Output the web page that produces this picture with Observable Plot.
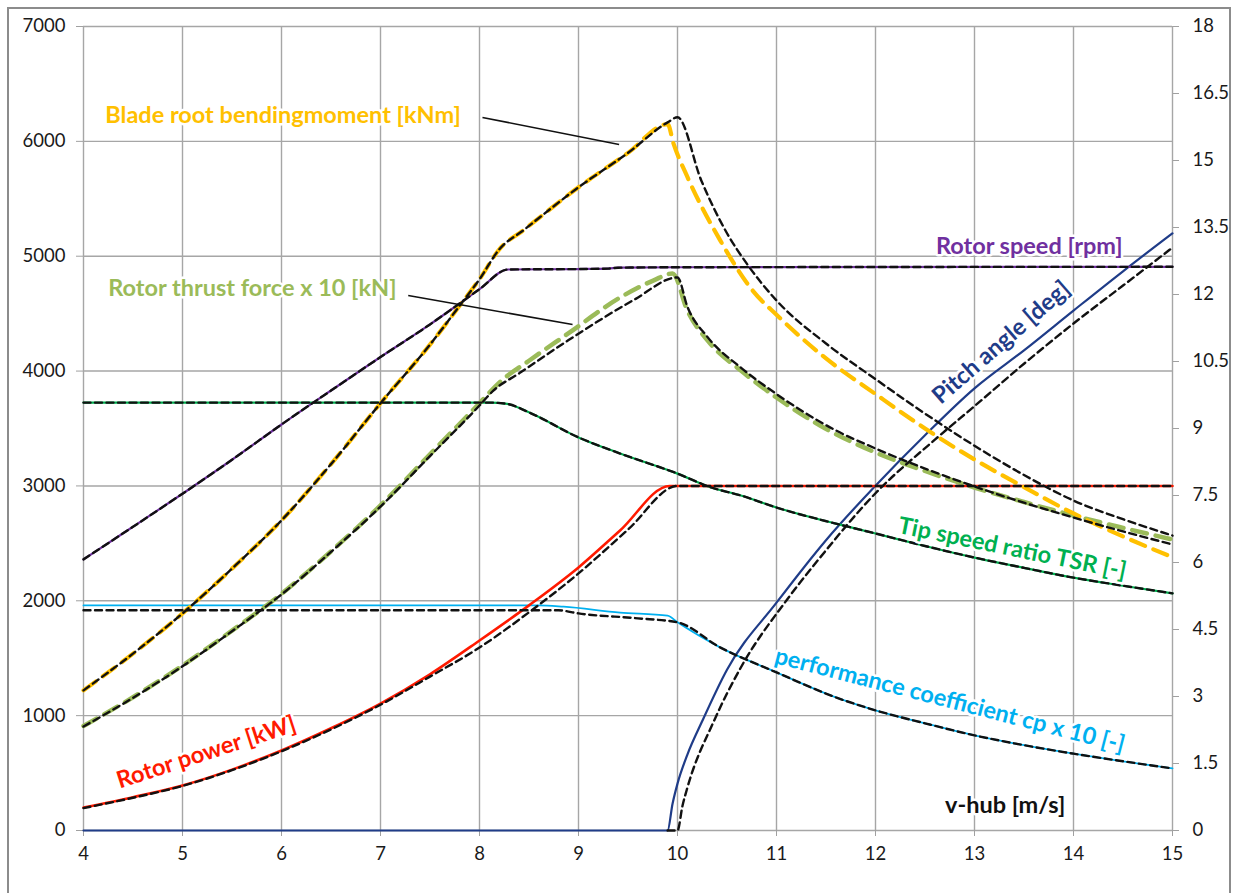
<!DOCTYPE html>
<html><head><meta charset="utf-8">
<script src="https://cdn.jsdelivr.net/npm/d3@7"></script>
<script src="https://cdn.jsdelivr.net/npm/@observablehq/plot@0.6"></script>
<style>
body{margin:0;background:#fff;font-family:Lato,sans-serif}
#wrap{position:relative;width:1239px;height:893px;overflow:hidden}
#frame{position:absolute;left:7px;top:7px;width:1220px;height:900px;border:2px solid #8c8c8c;pointer-events:none}
</style></head><body><div id="wrap"><div id="chart"></div><div id="frame"></div></div>
<script>
// ---- axes / ticks ----
const windTicks = [4,5,6,7,8,9,10,11,12,13,14,15];
const leftTicks = [0,1000,2000,3000,4000,5000,6000,7000];
const rightTicks = [0,1.5,3,4.5,6,7.5,9,10.5,12,13.5,15,16.5,18];
const K = 7000 / 18; // right-axis unit -> left-axis unit

// ---- left-axis series [v-hub m/s, value] ----
const bladeMomentMeas = [[4,1220],[4.5,1540],[5,1890],[5.5,2280],[6,2700],[6.5,3190],[7,3720],[7.5,4230],[7.8,4570],[8,4800],[8.2,5060],[8.45,5230],[9,5600],[9.5,5900],[9.9,6150],[9.96,5980],[10.1,5690],[10.43,5140],[10.77,4690],[11,4490],[11.5,4110],[12,3800],[12.5,3500],[13,3230],[13.5,2990],[14,2760],[14.5,2560],[15,2380]];
const bladeMomentSim = [[4,1220],[4.5,1540],[5,1890],[5.5,2280],[6,2700],[6.5,3190],[7,3720],[7.5,4230],[7.8,4570],[8,4800],[8.2,5060],[8.45,5230],[9,5600],[9.5,5900],[9.9,6165],[10,6210],[10.24,5660],[10.5,5200],[10.7,4935],[11,4615],[11.5,4240],[12,3930],[12.5,3630],[13,3350],[13.5,3095],[14,2873],[14.5,2710],[15,2568]];
const thrustMeas = [[4,910],[4.5,1160],[5,1437],[5.5,1740],[6,2060],[6.5,2430],[7,2830],[7.5,3275],[8,3720],[8.2,3900],[8.5,4090],[8.9,4330],[9.42,4640],[9.76,4790],[9.95,4850],[10.1,4527],[10.33,4240],[10.64,4005],[11,3770],[11.44,3526],[12,3291],[12.5,3130],[13,2986],[13.5,2860],[14,2742],[14.5,2635],[15,2533]];
const thrustSim = [[4,905],[4.5,1155],[5,1430],[5.5,1735],[6,2055],[6.5,2425],[7,2820],[7.5,3260],[8,3700],[8.14,3830],[8.4,3980],[8.9,4270],[9.56,4620],[10,4815],[10.1,4560],[10.3,4300],[10.64,4030],[11,3800],[11.6,3483],[12,3326],[13,2995],[14,2725],[15,2490]];
const powerMeas = [[4,200],[4.5,290],[5,392],[5.5,530],[6,697],[6.5,890],[7,1105],[7.5,1360],[8,1654],[8.5,1960],[9,2290],[9.42,2612],[9.92,3000],[15,3000]];
const powerSim = [[4,195],[4.5,285],[5,388],[5.5,525],[6,690],[6.5,880],[7,1095],[7.5,1340],[8,1593],[8.5,1900],[9,2238],[9.5,2620],[10,3000],[15,3000]];

// ---- right-axis series [v-hub m/s, value] ----
const rotorSpeedMeas = [[4,6.07],[4.5,6.8],[5,7.54],[5.5,8.3],[6,9.09],[6.5,9.85],[7,10.6],[7.5,11.33],[7.8,11.8],[8,12.12],[8.29,12.56],[9,12.57],[9.3,12.58],[9.4,12.6],[10,12.61],[15,12.62]];
const rotorSpeedSim = [[4,6.07],[4.5,6.8],[5,7.54],[5.5,8.3],[6,9.09],[6.5,9.85],[7,10.6],[7.5,11.33],[7.8,11.8],[8,12.12],[8.29,12.56],[9,12.57],[9.3,12.58],[9.4,12.6],[10,12.61],[15,12.62]];
const tsrMeas = [[4,9.58],[8.1,9.58],[8.28,9.55],[8.52,9.34],[9,8.8],[9.42,8.44],[10,7.99],[10.34,7.68],[10.64,7.5],[11,7.23],[11.6,6.87],[12,6.65],[12.5,6.37],[13,6.11],[13.5,5.88],[14,5.66],[14.5,5.48],[15,5.31]];
const tsrSim = [[4,9.58],[8.1,9.58],[8.28,9.55],[8.52,9.34],[9,8.8],[9.42,8.44],[10,7.99],[10.34,7.68],[10.64,7.5],[11,7.23],[11.6,6.87],[12,6.65],[12.5,6.37],[13,6.11],[13.5,5.88],[14,5.66],[14.5,5.48],[15,5.31]];
const cpMeas = [[4,5.04],[8.6,5.04],[8.85,5.01],[9.42,4.88],[9.9,4.81],[10,4.66],[10.43,4.1],[11,3.54],[11.6,2.98],[12,2.69],[12.5,2.4],[13,2.13],[13.5,1.91],[14,1.72],[14.5,1.55],[15,1.39]];
const cpSim = [[4,4.93],[8.8,4.93],[9,4.86],[9.6,4.75],[10,4.66],[10.43,4.1],[11,3.54],[11.6,2.98],[12,2.69],[12.5,2.4],[13,2.13],[13.5,1.91],[14,1.72],[14.5,1.55],[15,1.39]];
const pitchMeas = [[4,0],[9.9,0],[9.95,0.6],[10,1.05],[10.1,1.7],[10.25,2.45],[10.5,3.6],[11,5.1],[11.5,6.5],[12,7.72],[12.5,8.85],[13,9.9],[13.5,10.75],[14,11.64],[14.5,12.52],[15,13.37]];
const pitchSim = [[9.9,0],[10,0],[10.05,0.55],[10.1,0.96],[10.37,2.46],[10.64,3.65],[11.1,5.15],[11.44,6.11],[12,7.55],[12.6,8.75],[13,9.5],[13.5,10.45],[14,11.35],[14.5,12.2],[15,13.05]];

// ---- annotations (text, anchor in data units) ----
const labelTexts = ["Blade root bendingmoment [kNm]","Rotor thrust force x 10 [kN]","Rotor speed [rpm]","Pitch angle [deg]","Tip speed ratio TSR [-]","performance coefficient cp x 10 [-]","Rotor power [kW]","v-hub [m/s]"];

const startLabels = [
  {text: labelTexts[0], x: 4.22, y: 6225, fill: "#FFC000"},
  {text: labelTexts[1], x: 4.25, y: 4715, fill: "#9BBB59"},
  {text: labelTexts[2], x: 12.61, y: 5084, fill: "#7030A0"}
];
const middleLabels = [
  {text: labelTexts[3], x: 13.27, y: 4249, fill: "#1F3C88", rotate: -41},
  {text: labelTexts[4], x: 13.38, y: 2455, fill: "#00B050", rotate: 11.5},
  {text: labelTexts[5], x: 12.75, y: 1132, fill: "#00B0F0", rotate: 14.4},
  {text: labelTexts[6], x: 5.24, y: 679, fill: "#FF1A00", rotate: -18},
  {text: labelTexts[7], x: 13.31, y: 218, fill: "#111111", rotate: 0}
];
const leaders = [
  {x1: 8.03, y1: 6208, x2: 9.41, y2: 5973},
  {x1: 7.28, y1: 4658, x2: 8.94, y2: 4405}
];

const L = (arr, opts) => Plot.line(arr, {x: d => d[0], y: d => d[1], curve: "monotone-x", ...opts});
const R = (arr, opts) => Plot.line(arr, {x: d => d[0], y: d => d[1] * K, curve: "monotone-x", ...opts});
const simStyle = {stroke: "#111", strokeWidth: 2.4, strokeDasharray: "7,4.5"};
const labelStyle = {fontSize: 23.5, fontWeight: "bold", stroke: "white", strokeWidth: 5, paintOrder: "stroke"};

const chart = Plot.plot({
  width: 1239, height: 893,
  marginLeft: 83, marginRight: 67, marginTop: 26, marginBottom: 63,
  style: {fontFamily: "Lato, sans-serif", fontSize: "18px", color: "#1a1a1a", background: "transparent"},
  x: {domain: [4, 15]},
  y: {domain: [0, 7000]},
  marks: [
    Plot.gridX(windTicks, {stroke: "#a6a6a6", strokeOpacity: 1, strokeWidth: 1.4}),
    Plot.gridY(leftTicks, {stroke: "#a6a6a6", strokeOpacity: 1, strokeWidth: 1.4}),
    Plot.axisX(windTicks, {tickSize: 6, tickPadding: 10, fontSize: 18.5, label: null, tickFormat: d => String(d)}),
    Plot.axisY(leftTicks, {anchor: "left", tickSize: 7, tickPadding: 11, fontSize: 18.5, label: null, tickFormat: d => String(d)}),
    Plot.axisY(rightTicks.map(r => r * K), {anchor: "right", tickSize: 6, tickPadding: 14, fontSize: 18.5, label: null,
      tickFormat: d => String(+(d / K).toFixed(1))}),
    // measured
    R(pitchMeas, {stroke: "#1F3C88", strokeWidth: 2.2}),
    R(cpMeas, {stroke: "#00B0F0", strokeWidth: 1.8}),
    R(tsrMeas, {stroke: "#00B050", strokeWidth: 2.2}),
    R(rotorSpeedMeas, {stroke: "#7030A0", strokeWidth: 2.2}),
    L(powerMeas, {stroke: "#FF1A00", strokeWidth: 2.6}),
    L(thrustMeas, {stroke: "#9BBB59", strokeWidth: 4.5, strokeDasharray: "15,9"}),
    L(bladeMomentMeas, {stroke: "#FFC000", strokeWidth: 4.2, strokeDasharray: "15,9"}),
    // simulated (black dashed)
    R(pitchSim, simStyle),
    R(cpSim, simStyle),
    R(tsrSim, simStyle),
    R(rotorSpeedSim, simStyle),
    L(powerSim, simStyle),
    L(thrustSim, simStyle),
    L(bladeMomentSim, simStyle),
    // leader lines
    Plot.link(leaders, {x1: "x1", y1: "y1", x2: "x2", y2: "y2", stroke: "#111", strokeWidth: 1.6}),
    // labels
    Plot.text(startLabels, {x: "x", y: "y", text: "text", fill: "fill", textAnchor: "start", ...labelStyle}),
    Plot.text(middleLabels, {x: "x", y: "y", text: "text", fill: "fill", rotate: "rotate", textAnchor: "middle", ...labelStyle})
  ]
});
document.getElementById("chart").appendChild(chart);
chart.querySelectorAll('g[aria-label$="axis tick"]').forEach(g => g.setAttribute("stroke", "#a0a0a0"));
chart.querySelectorAll('g[aria-label$="axis tick label"]').forEach(g => g.setAttribute("fill", "#1a1a1a"));
</script></body></html>
